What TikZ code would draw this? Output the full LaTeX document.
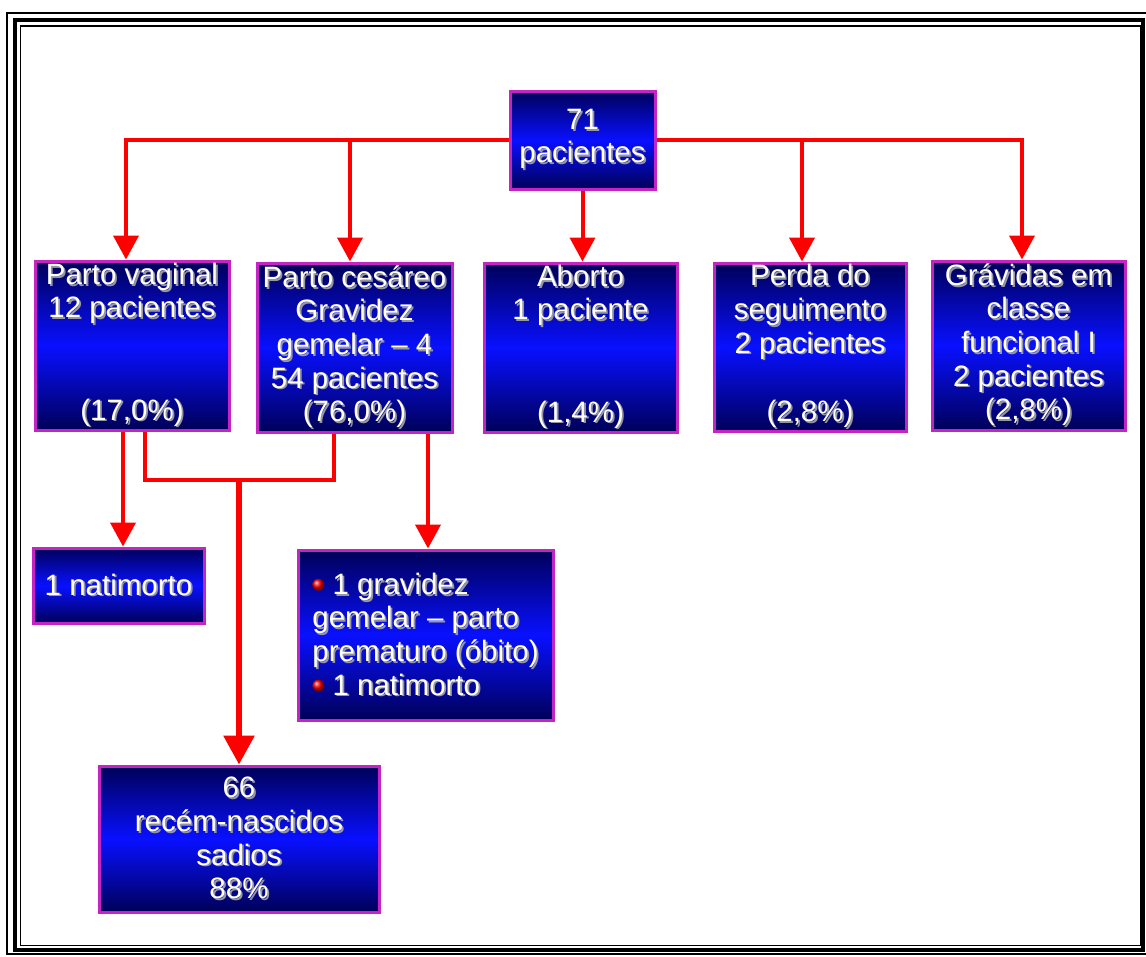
\documentclass[tikz,border=0pt]{standalone}
\usepackage{fontspec}
\setmainfont{Liberation Sans}
\usetikzlibrary{arrows.meta,calc}
\definecolor{dk}{RGB}{0,0,88}
\definecolor{bl}{RGB}{8,16,255}
\definecolor{mag}{RGB}{196,36,196}
\definecolor{shd}{RGB}{150,150,160}
\definecolor{ar}{RGB}{255,0,0}
\newcommand\shl[1]{\raisebox{-2.5pt}{\makebox[0pt][l]{\kern1.8pt\raisebox{-1.8pt}{\color{shd}#1}}#1}}
\newcommand\bul{\raisebox{-2.5pt}{\raisebox{3.5pt}{\tikz\shade[ball color=ar] (0,0) circle[radius=6pt];}}}
\begin{document}
\begin{tikzpicture}[x=1pt,y=-1pt,
  boxst/.style={draw=mag, line width=3pt, top color=dk, bottom color=dk, middle color=bl,
    text=white, inner sep=0pt, align=center, font=\fontsize{29.5}{33.6}\selectfont},
  lin/.style={draw=ar, line width=4pt},
  arr/.style={lin, -{Triangle[length=24pt,width=25pt]}},
  bigarr/.style={draw=ar, line width=6pt, -{Triangle[length=29pt,width=30pt]}},
  frm/.style={draw=black}
]
\useasboundingbox[fill=white] (0,0) rectangle (1146,956);
% frame
\draw[frm, line width=2.5pt] (7,13) rectangle (1152,954);
\draw[frm, line width=4pt] (14.5,20) rectangle (1143,949.5);
\draw[frm, line width=1.8pt] (20.5,26) rectangle (1140.5,945.5);

% boxes
\node[boxst, minimum width=145pt, minimum height=98pt] (top) at (582.5,140)
  {\shl{71}\\ \shl{pacientes}};
\node[boxst, minimum width=194pt, minimum height=169pt] (pv) at (132,345.5)
  {\shl{Parto vaginal}\\ \shl{12 pacientes}\\ \strut\\ \strut\\ \shl{(17,0\%)}};
\node[boxst, minimum width=195pt, minimum height=169pt] (pc) at (354.5,347.5)
  {\shl{Parto cesáreo}\\ \shl{Gravidez}\\ \shl{gemelar – 4}\\ \shl{54 pacientes}\\ \shl{(76,0\%)}};
\node[boxst, minimum width=193pt, minimum height=169pt] (ab) at (580.5,347.5)
  {\shl{Aborto}\\ \shl{1 paciente}\\ \strut\\ \strut\\ \shl{(1,4\%)}};
\node[boxst, minimum width=192pt, minimum height=168pt] (pd) at (810,347)
  {\shl{Perda do}\\ \shl{seguimento}\\ \shl{2 pacientes}\\ \strut\\ \shl{(2,8\%)}};
\node[boxst, minimum width=193pt, minimum height=169pt] (gr) at (1028.5,345.5)
  {\shl{Grávidas em}\\ \shl{classe}\\ \shl{funcional I}\\ \shl{2 pacientes}\\ \shl{(2,8\%)}};
\node[boxst, minimum width=171pt, minimum height=75pt] (nat) at (118.5,585.5)
  {\shl{1 natimorto}};
\node[boxst, align=left, minimum width=255pt, minimum height=170pt] (bul) at (425.5,635)
  {\bul\ \shl{1 gravidez}\\ \shl{gemelar – parto}\\ \shl{prematuro (óbito)}\\ \bul\ \shl{1 natimorto}};
\node[boxst, minimum width=280pt, minimum height=146pt] (rs) at (239,839)
  {\shl{66}\\ \shl{recém-nascidos}\\ \shl{sadios}\\ \shl{88\%}};

% connectors
\draw[arr] (top.west) -| ([xshift=-6pt]pv.north);
\draw[arr] ([xshift=-4.5pt]pc.north |- top.west) -- ([xshift=-4.5pt]pc.north);
\draw[arr] (top.east) -| ([xshift=-6.5pt]gr.north);
\draw[arr] ([xshift=-8pt]pd.north |- top.east) -- ([xshift=-8pt]pd.north);
\draw[arr] (top.south) -- (top.south |- ab.north);
\draw[arr] ([xshift=-9pt]pv.south) -- ([xshift=-9pt]pv.south |- nat.north);
\coordinate (j) at (239,480);
\draw[lin] ([xshift=13pt]pv.south) |- (j) -| ([xshift=-20.5pt]pc.south);
\draw[bigarr] (j) -- (rs.north);
\draw[arr] ([xshift=73.5pt]pc.south) -- ([xshift=73.5pt]pc.south |- bul.north);
\end{tikzpicture}
\end{document}
